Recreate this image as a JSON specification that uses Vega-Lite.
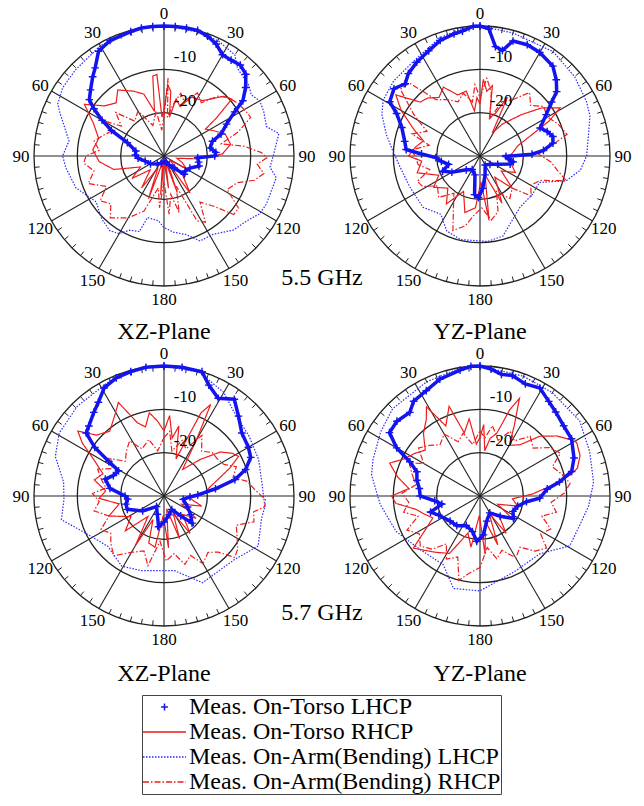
{
"$schema": "https://vega.github.io/schema/vega-lite/v6.json",
"background": "white",
"padding": {"left": 12, "top": 4, "right": 0, "bottom": 0},
"datasets": {
"rings": [{"lv": 0}, {"lv": -10}, {"lv": -20}],
"spokes": [{"a": 0}, {"a": 30}, {"a": 60}, {"a": 90}, {"a": 120}, {"a": 150}],
"ticks": [{"a": [5,10,15,20,25,35,40,45,50,55,65,70,75,80,85,95,100,105,110,115,125,130,135,140,145,155,160,165,170,175,185,190,195,200,205,215,220,225,230,235,245,250,255,260,265,275,280,285,290,295,305,310,315,320,325,335,340,345,350,355]}],
"alabels": [{"a":0,"t":"0"},{"a":30,"t":"30"},{"a":60,"t":"60"},{"a":90,"t":"90"},{"a":120,"t":"120"},{"a":150,"t":"150"},{"a":180,"t":"180"},{"a":210,"t":"150"},{"a":240,"t":"120"},{"a":270,"t":"90"},{"a":300,"t":"60"},{"a":330,"t":"30"}],
"rlabels": [{"lv": -10, "t": "-10"}, {"lv": -20, "t": "-20"}],
"curves": [
{"p":"55XZ","s":"Meas. On-Torso LHCP","a":[0,5,10,15,20,25,30,35,40,45,50,55,58,63,69,73,80,86,90,93,100,106,115,125,132,140,150,160,180,200,220,240,255,265,272,280,290,296,300,304,307,312,318,322,328,335,345,350,355,360],"v":[0,0,0,0,-0.6,-1.5,-3,-3,-2.6,-3.3,-5.4,-7.8,-10.8,-13.8,-15.9,-18.3,-19.2,-18,-18.3,-22.2,-21.9,-21.6,-23.4,-24,-23.7,-26.4,-27.6,-28.5,-28.8,-28.2,-27.6,-26.4,-25.5,-24,-23.4,-23.4,-21,-16.5,-13.5,-10.5,-8.4,-7.2,-5.4,-4.2,-1.5,-0.6,-0.3,0,0,0]},
{"p":"55XZ","s":"Meas. On-Arm(Bending) LHCP","a":[0,15,25,35,40,50,55,60,66,74,79,90,96,101,106,115,121,128,137,148,157,164,173,180,185,195,198,205,210,216,225,236,250,263,270,279,292,296,304,314,330,340,350,360],"v":[0,-0.3,-0.6,-1.5,-3.6,-4.5,-5.4,-4.5,-4.8,-5.4,-3,-4.8,-5.4,-3.6,-3.9,-3.9,-4.2,-5.7,-6.6,-8.7,-8.7,-11.1,-12.3,-13.5,-15,-15.3,-11.7,-11.1,-9.3,-8.7,-9.6,-11.1,-8.4,-7.2,-6.6,-7.8,-4.2,-2.7,-1.8,-1.5,-0.6,-0.6,0,0]},
{"p":"55XZ","s":"Meas. On-Torso RHCP","a":[0,3,6,8,12,18,25,35,45,50,54,57,62,70,80,88,95,100,110,120,125,135,145,150,160,165,172,178,185,192,200,207,215,225,235,245,255,265,275,285,295,303,310,318,325,335,342,348,352,355,357,360],"v":[-19.5,-13.5,-15,-21,-16.5,-18,-15,-14.4,-10.5,-9.6,-15,-18.6,-17.4,-15,-14.4,-16.5,-22.5,-27,-25.5,-24,-28.5,-24,-19.5,-28.5,-21,-28.5,-22.5,-28.5,-21,-28.5,-19.5,-27,-21,-25.5,-21,-24,-18,-15,-13.5,-14.4,-12,-8.1,-12,-13.5,-11.4,-13.5,-15,-19.5,-11.4,-11.1,-21,-19.5]},
{"p":"55XZ","s":"Meas. On-Arm(Bending) RHCP","a":[0,3,5,10,15,20,28,35,42,48,55,62,66,72,78,83,88,91,95,100,105,110,118,125,130,135,142,148,153,158,165,170,175,180,185,190,200,210,221,228,235,242,250,258,265,270,275,282,288,295,300,305,312,320,330,340,350,355,360],"v":[-21,-12,-21,-18,-15,-16.5,-13.5,-15,-11.4,-9.9,-9,-8.4,-8.1,-12,-16.5,-11.4,-7.5,-6.3,-8.4,-6.6,-8.4,-12,-13.5,-9,-9,-13.5,-16.5,-12,-13.2,-22.5,-16.5,-21,-16.5,-24,-18,-22.5,-16.5,-13.5,-11.1,-13.5,-12,-15,-11.4,-13.5,-11.4,-12,-15,-13.5,-15,-16.5,-13.5,-18,-15,-19.5,-18,-22.5,-19.5,-24,-21]},
{"p":"55YZ","s":"Meas. On-Torso LHCP","a":[0,4,8,12,16,23,30,39,45,50,53,58,65,70,75,80,85,88,91,95,100,105,115,130,150,165,175,182,188,195,210,225,240,248,255,262,268,272,275,281,290,297,301,308,314,319,326,334,341,348,352,357,360],"v":[0,-0.6,-4.5,-5.1,-2.4,-2.1,-2.4,-3.3,-5.1,-6.9,-9.3,-12,-14.7,-13.5,-12.6,-12.9,-15.3,-18,-24,-23.4,-22.2,-22.8,-25.5,-27,-27.6,-25.5,-22.5,-20.4,-21,-25.5,-26.4,-25.5,-22.5,-20.7,-22.5,-21,-19.8,-16.5,-12.9,-12.3,-10.8,-8.4,-5.7,-4.8,-6,-4.8,-3.9,-3,-1.8,-1.2,-0.9,0,0]},
{"p":"55YZ","s":"Meas. On-Arm(Bending) LHCP","a":[0,15,35,50,63,70,79,90,98,106,114,126,142,156,164,175,193,204,214,228,246,262,273,283,293,300,311,325,341,352,360],"v":[0,-0.6,-0.6,-1.5,-2.4,-3,-4.5,-5.4,-6.6,-9.3,-15,-15,-15,-12.9,-10.8,-10.2,-10.2,-11.1,-13.8,-12.3,-12.3,-11.4,-9.9,-7.8,-5.4,-4.2,-3.6,-3.3,-1.2,-0.3,0]},
{"p":"55YZ","s":"Meas. On-Torso RHCP","a":[0,2.5,6,10,14,20,25,28,35,45,52,59,63,67,75,85,95,105,115,125,135,145,155,165,172,178,185,195,205,215,225,236,245,255,265,270,278,285,292,300,306,312,318,325,332,340,348,353,357,360],"v":[-18,-12.3,-15,-13.5,-21,-19.5,-15,-24,-21,-16.5,-12,-8.4,-12,-16.5,-21,-22.5,-24,-22.5,-21,-24,-19.5,-24,-18,-25.5,-15,-24,-18,-16.5,-21,-16.5,-19.5,-17.1,-19.5,-15,-16.5,-13.5,-15,-16.5,-13.5,-9,-6,-11.4,-12,-13.5,-12,-15,-14.7,-19.5,-16.5,-18]},
{"p":"55YZ","s":"Meas. On-Arm(Bending) RHCP","a":[0,5,10,15,22,30,38,45,52,60,68,76,82,88,95,100,106,112,120,128,135,145,155,162,170,178,185,192,200,207,215,225,235,242,248,255,262,270,275,282,288,295,302,310,316,322,330,338,345,352,356,360],"v":[-16.5,-12,-15,-21,-16.5,-15,-11.4,-13.5,-11.4,-12,-10.5,-9.3,-13.5,-16.5,-13.5,-12,-9.3,-15,-16.5,-15,-19.5,-18,-21,-16.5,-15,-18,-16.5,-13.5,-11.7,-16.5,-19.5,-16.5,-18,-15,-14.4,-18,-15.6,-15,-14.1,-18,-13.5,-16.5,-12,-6,-6.6,-13.5,-15,-16.5,-15,-17.4,-13.5,-16.5]},
{"p":"57XZ","s":"Meas. On-Torso LHCP","a":[0,8,17,22,29,36,43,51,60,66,72,77,82,88,92,100,115,125,134,140,150,165,180,190,200,215,235,250,258,265,270,278,286,292,299,302,305,309,313,320,325,331,338,345,352,360],"v":[0,0,0,-2.4,-4.2,-2.4,-4.8,-6.9,-7.5,-8.1,-10.2,-13.2,-18,-22.2,-24,-25.5,-24,-22.5,-21,-24,-26.4,-25.5,-24,-22.8,-25.5,-27,-24,-21,-21,-21.6,-21,-17.4,-15.9,-17.4,-18,-15,-10.5,-6.9,-6.3,-4.8,-3.6,-1.5,-0.6,-0.3,0,0]},
{"p":"57XZ","s":"Meas. On-Arm(Bending) LHCP","a":[0,16,30,40,55,69,82,96,103,118,132,156,172,197,211,228,245,257,268,278,290,301,316,335,350,360],"v":[0,-0.3,-2.4,-4.8,-6,-6.6,-7.2,-6.6,-6.9,-5.4,-8.1,-8.1,-12.6,-12,-11.1,-12.6,-9.9,-5.7,-6.9,-6.6,-3.3,-1.8,-1.2,-0.6,0,0]},
{"p":"57XZ","s":"Meas. On-Torso RHCP","a":[0,4,8,12,18,24,27,30,35,45,52,58,62,67,72,80,88,95,105,115,125,135,145,152,160,168,175,182,190,198,205,210,218,228,238,250,260,268,275,283,290,297,303,307,312,320,328,334,340,345,350,355,360],"v":[-15,-11.4,-16.5,-13.5,-21,-9,-6.3,-15,-22.5,-18,-13.5,-11.4,-10.5,-13.5,-16.5,-19.5,-21,-24,-21,-25.5,-21,-24,-19.5,-25.5,-19.5,-27,-18,-25.5,-18,-18.6,-24,-16.8,-24,-18,-21,-16.5,-19.5,-15,-16.5,-13.5,-15,-12,-7.5,-5.1,-9,-10.5,-8.4,-6,-12,-13.5,-10.5,-12.6,-15]},
{"p":"57XZ","s":"Meas. On-Arm(Bending) RHCP","a":[0,5,10,18,25,32,40,48,55,62,68,75,80,86,92,96,100,106,112,120,126,131,136,142,150,156,163,170,178,185,193,200,210,220,228,235,242,250,258,265,272,278,285,292,298,305,312,320,328,335,345,352,360],"v":[-16.5,-15,-19.5,-16.5,-18,-13.5,-16.5,-15,-15,-14.4,-12,-13.5,-10.5,-9,-6.6,-6.6,-9,-8.4,-12,-10.5,-9,-8.4,-12,-13.5,-12,-15,-13.5,-16.5,-15,-19.5,-13.5,-16.5,-15,-12,-13.5,-15,-13.5,-16.5,-13.5,-15,-13.5,-16.5,-15,-13.5,-16.5,-15,-18,-16.5,-15,-18,-16.5,-19.5,-16.5]},
{"p":"57YZ","s":"Meas. On-Torso LHCP","a":[0,5,10,15,22,29,36,42,50,58,68,75,80,84,92,97,105,115,124,135,150,165,175,184,192,205,218,230,245,252,258,264,270,277,284,291,296,300,305,312,320,325,333,341,351,356,360],"v":[0,-0.6,-1.5,-1.2,-2.1,-1.5,-3,-3.9,-4.8,-5.1,-6.6,-8.1,-11.4,-14.4,-16.2,-19.2,-21,-21.6,-20.7,-23.4,-25.5,-24,-21,-19.5,-21.6,-22.5,-21.3,-21,-19.5,-18,-21,-19.5,-16.2,-15.9,-15,-14.4,-12,-7.8,-4.5,-4.2,-4.8,-3.3,-2.7,-1.5,-0.6,0,0]},
{"p":"57YZ","s":"Meas. On-Arm(Bending) LHCP","a":[0,20,35,53,68,83,95,106,119,134,156,169,180,196,208,229,247,265,281,289,303,315,335,350,360],"v":[0,-0.6,-0.9,-1.2,-2.7,-3.6,-4.8,-6,-6.3,-10.8,-10.8,-9.9,-8.1,-7.8,-12,-11.4,-9,-6.9,-4.5,-3.9,-2.7,-1.5,-0.9,-0.3,0]},
{"p":"57YZ","s":"Meas. On-Torso RHCP","a":[0,3,6,10,15,19,22,26,30,38,45,52,58,61,68,74,77,82,88,95,105,115,125,135,145,152,160,168,175,182,190,198,208,218,226,232,238,245,252,258,265,270,276,283,290,296,303,310,318,325,329,334,341,346,352,356,360],"v":[-16.5,-13.5,-19.5,-16.5,-15,-9,-5.7,-12,-16.5,-15,-10.5,-7.5,-5.4,-4.5,-5.1,-6.6,-8.7,-13.5,-18,-22.5,-21,-25.5,-21,-24,-19.5,-25.5,-18,-24,-16.5,-25.5,-18,-21,-15,-13.5,-12,-10.5,-15,-18,-16.5,-15,-10.5,-9.6,-13.5,-10.5,-7.8,-10.5,-12,-13.5,-10.5,-8.4,-6,-12,-8.1,-15,-12,-18,-16.5]},
{"p":"57YZ","s":"Meas. On-Arm(Bending) RHCP","a":[0,5,10,18,25,32,40,48,55,62,68,75,82,88,95,102,108,115,122,128,135,142,150,158,165,172,180,188,194,200,208,215,222,230,238,245,252,258,265,272,280,288,295,300,308,315,322,330,338,345,352,360],"v":[-15,-16.5,-13.5,-16.5,-13.5,-15,-12,-13.5,-10.5,-9,-12,-10.5,-9,-10.5,-13.5,-12,-15,-12,-13.5,-10.5,-12,-15,-13.5,-16.5,-15,-18,-13.5,-12,-9.9,-15,-13.5,-16.5,-13.5,-12,-13.5,-11.4,-15,-12,-13.5,-12,-15,-13.5,-12,-15,-12,-13.5,-15,-13.5,-16.5,-15,-18,-15]}
]
},
"vconcat": [
{"hconcat": [
{"width": 260, "height": 260,
 "title": {"text": "XZ-Plane", "orient": "bottom", "frame": "group", "baseline": "middle", "offset": 24},
 "layer": [
  {"data": {"name": "rings"}, "transform": [{"calculate": "datum.lv + 30", "as": "rr"}],
   "mark": {"type": "point", "shape": "circle", "filled": false, "stroke": "#222", "strokeWidth": 1.3, "opacity": 1},
   "encoding": {"x": {"datum": 0, "type": "quantitative", "scale": {"domain": [-30, 30], "nice": false}, "axis": null},
                "y": {"datum": 0, "type": "quantitative", "scale": {"domain": [-30, 30], "nice": false}, "axis": null},
                "size": {"field": "rr", "type": "quantitative", "scale": {"type": "pow", "exponent": 2, "domain": [0, 30], "range": [0, 67600]}, "legend": null}}},
  {"data": {"name": "spokes"}, "transform": [{"calculate": "30*sin(datum.a*PI/180)", "as": "x1"}, {"calculate": "30*cos(datum.a*PI/180)", "as": "y1"}, {"calculate": "-datum.x1", "as": "x0"}, {"calculate": "-datum.y1", "as": "y0"}],
   "mark": {"type": "rule", "stroke": "#222", "strokeWidth": 1.1},
   "encoding": {"x": {"field": "x0", "type": "quantitative", "scale": {"domain": [-30, 30], "nice": false}, "axis": null}, "y": {"field": "y0", "type": "quantitative", "scale": {"domain": [-30, 30], "nice": false}, "axis": null}, "x2": {"field": "x1"}, "y2": {"field": "y1"}}},
  {"data": {"name": "ticks"}, "transform": [{"flatten": ["a"]}, {"calculate": "30*sin(datum.a*PI/180)", "as": "xo"}, {"calculate": "30*cos(datum.a*PI/180)", "as": "yo"}, {"calculate": "28.8*sin(datum.a*PI/180)", "as": "xi"}, {"calculate": "28.8*cos(datum.a*PI/180)", "as": "yi"}],
   "mark": {"type": "rule", "stroke": "#222", "strokeWidth": 1},
   "encoding": {"x": {"field": "xo", "type": "quantitative", "scale": {"domain": [-30, 30], "nice": false}, "axis": null}, "y": {"field": "yo", "type": "quantitative", "scale": {"domain": [-30, 30], "nice": false}, "axis": null}, "x2": {"field": "xi"}, "y2": {"field": "yi"}}},
  {"data": {"name": "curves"}, "transform": [{"filter": "datum.p == '55XZ'"}, {"flatten": ["a", "v"]}, {"calculate": "max(0, datum.v + 30)", "as": "r"}, {"calculate": "datum.r * sin(datum.a * PI / 180)", "as": "x"}, {"calculate": "datum.r * cos(datum.a * PI / 180)", "as": "y"}],
   "layer": [
    {"transform": [{"filter": "datum.s != 'Meas. On-Torso LHCP'"}], "mark": {"type": "line", "strokeWidth": 1.2},
     "encoding": {"x": {"field": "x", "type": "quantitative", "scale": {"domain": [-30, 30], "nice": false}, "axis": null}, "y": {"field": "y", "type": "quantitative", "scale": {"domain": [-30, 30], "nice": false}, "axis": null}, "order": {"field": "a", "type": "quantitative"},
      "color": {"field": "s", "type": "nominal", "scale": {"domain": ["Meas. On-Torso LHCP", "Meas. On-Torso RHCP", "Meas. On-Arm(Bending) LHCP", "Meas. On-Arm(Bending) RHCP"], "range": ["#1414f0", "#ee1c1c", "#2a2aff", "#ee1c1c"]}, "legend": {"title": null}},
      "strokeDash": {"field": "s", "type": "nominal", "scale": {"domain": ["Meas. On-Torso LHCP", "Meas. On-Torso RHCP", "Meas. On-Arm(Bending) LHCP", "Meas. On-Arm(Bending) RHCP"], "range": [[1, 0], [1, 0], [1.5, 1.5], [6, 2, 1.5, 2]]}, "legend": {"title": null}}}},
    {"transform": [{"filter": "datum.s == 'Meas. On-Torso LHCP'"}], "mark": {"type": "line", "color": "#1414f0", "strokeWidth": 3.5},
     "encoding": {"x": {"field": "x", "type": "quantitative", "scale": {"domain": [-30, 30], "nice": false}, "axis": null}, "y": {"field": "y", "type": "quantitative", "scale": {"domain": [-30, 30], "nice": false}, "axis": null}, "order": {"field": "a", "type": "quantitative"}}},
    {"transform": [{"filter": "datum.s == 'Meas. On-Torso LHCP'"}], "mark": {"type": "point", "filled": false, "strokeWidth": 1.4, "size": 2300, "opacity": 1},
     "encoding": {"x": {"field": "x", "type": "quantitative", "scale": {"domain": [-30, 30], "nice": false}, "axis": null}, "y": {"field": "y", "type": "quantitative", "scale": {"domain": [-30, 30], "nice": false}, "axis": null},
      "color": {"field": "s", "type": "nominal", "scale": {"domain": ["Meas. On-Torso LHCP", "Meas. On-Torso RHCP", "Meas. On-Arm(Bending) LHCP", "Meas. On-Arm(Bending) RHCP"], "range": ["#1414f0", "#ee1c1c", "#2a2aff", "#ee1c1c"]}, "legend": {"title": null}},
      "shape": {"field": "s", "type": "nominal", "scale": {"domain": ["Meas. On-Torso LHCP", "Meas. On-Torso RHCP", "Meas. On-Arm(Bending) LHCP", "Meas. On-Arm(Bending) RHCP"], "range": ["M-0.16,0L0.16,0M0,-0.16L0,0.16", "stroke", "stroke", "stroke"]}, "legend": {"title": null}}}}
   ]},
  {"data": {"name": "alabels"}, "transform": [{"calculate": "33*sin(datum.a*PI/180)", "as": "x"}, {"calculate": "33*cos(datum.a*PI/180)", "as": "y"}],
   "mark": {"type": "text", "font": "Liberation Serif", "fontSize": 17, "align": "center", "baseline": "middle", "dy": 1, "color": "#000"},
   "encoding": {"x": {"field": "x", "type": "quantitative", "scale": {"domain": [-30, 30], "nice": false}, "axis": null}, "y": {"field": "y", "type": "quantitative", "scale": {"domain": [-30, 30], "nice": false}, "axis": null}, "text": {"field": "t"}}},
  {"data": {"name": "rlabels"}, "transform": [{"calculate": "datum.lv + 30", "as": "rr"}],
   "mark": {"type": "text", "font": "Liberation Serif", "fontSize": 17, "align": "center", "baseline": "middle", "dx": 21, "dy": -12, "color": "#000"},
   "encoding": {"x": {"datum": 0, "type": "quantitative", "scale": {"domain": [-30, 30], "nice": false}, "axis": null}, "y": {"field": "rr", "type": "quantitative", "scale": {"domain": [-30, 30], "nice": false}, "axis": null}, "text": {"field": "t"}}}
 ]},
{"width": 260, "height": 260,
 "title": {"text": "YZ-Plane", "orient": "bottom", "frame": "group", "baseline": "middle", "offset": 24},
 "layer": [
  {"data": {"name": "rings"}, "transform": [{"calculate": "datum.lv + 30", "as": "rr"}],
   "mark": {"type": "point", "shape": "circle", "filled": false, "stroke": "#222", "strokeWidth": 1.3, "opacity": 1},
   "encoding": {"x": {"datum": 0, "type": "quantitative", "scale": {"domain": [-30, 30], "nice": false}, "axis": null},
                "y": {"datum": 0, "type": "quantitative", "scale": {"domain": [-30, 30], "nice": false}, "axis": null},
                "size": {"field": "rr", "type": "quantitative", "scale": {"type": "pow", "exponent": 2, "domain": [0, 30], "range": [0, 67600]}, "legend": null}}},
  {"data": {"name": "spokes"}, "transform": [{"calculate": "30*sin(datum.a*PI/180)", "as": "x1"}, {"calculate": "30*cos(datum.a*PI/180)", "as": "y1"}, {"calculate": "-datum.x1", "as": "x0"}, {"calculate": "-datum.y1", "as": "y0"}],
   "mark": {"type": "rule", "stroke": "#222", "strokeWidth": 1.1},
   "encoding": {"x": {"field": "x0", "type": "quantitative", "scale": {"domain": [-30, 30], "nice": false}, "axis": null}, "y": {"field": "y0", "type": "quantitative", "scale": {"domain": [-30, 30], "nice": false}, "axis": null}, "x2": {"field": "x1"}, "y2": {"field": "y1"}}},
  {"data": {"name": "ticks"}, "transform": [{"flatten": ["a"]}, {"calculate": "30*sin(datum.a*PI/180)", "as": "xo"}, {"calculate": "30*cos(datum.a*PI/180)", "as": "yo"}, {"calculate": "28.8*sin(datum.a*PI/180)", "as": "xi"}, {"calculate": "28.8*cos(datum.a*PI/180)", "as": "yi"}],
   "mark": {"type": "rule", "stroke": "#222", "strokeWidth": 1},
   "encoding": {"x": {"field": "xo", "type": "quantitative", "scale": {"domain": [-30, 30], "nice": false}, "axis": null}, "y": {"field": "yo", "type": "quantitative", "scale": {"domain": [-30, 30], "nice": false}, "axis": null}, "x2": {"field": "xi"}, "y2": {"field": "yi"}}},
  {"data": {"name": "curves"}, "transform": [{"filter": "datum.p == '55YZ'"}, {"flatten": ["a", "v"]}, {"calculate": "max(0, datum.v + 30)", "as": "r"}, {"calculate": "datum.r * sin(datum.a * PI / 180)", "as": "x"}, {"calculate": "datum.r * cos(datum.a * PI / 180)", "as": "y"}],
   "layer": [
    {"transform": [{"filter": "datum.s != 'Meas. On-Torso LHCP'"}], "mark": {"type": "line", "strokeWidth": 1.2},
     "encoding": {"x": {"field": "x", "type": "quantitative", "scale": {"domain": [-30, 30], "nice": false}, "axis": null}, "y": {"field": "y", "type": "quantitative", "scale": {"domain": [-30, 30], "nice": false}, "axis": null}, "order": {"field": "a", "type": "quantitative"},
      "color": {"field": "s", "type": "nominal", "scale": {"domain": ["Meas. On-Torso LHCP", "Meas. On-Torso RHCP", "Meas. On-Arm(Bending) LHCP", "Meas. On-Arm(Bending) RHCP"], "range": ["#1414f0", "#ee1c1c", "#2a2aff", "#ee1c1c"]}, "legend": {"title": null}},
      "strokeDash": {"field": "s", "type": "nominal", "scale": {"domain": ["Meas. On-Torso LHCP", "Meas. On-Torso RHCP", "Meas. On-Arm(Bending) LHCP", "Meas. On-Arm(Bending) RHCP"], "range": [[1, 0], [1, 0], [1.5, 1.5], [6, 2, 1.5, 2]]}, "legend": {"title": null}}}},
    {"transform": [{"filter": "datum.s == 'Meas. On-Torso LHCP'"}], "mark": {"type": "line", "color": "#1414f0", "strokeWidth": 3.5},
     "encoding": {"x": {"field": "x", "type": "quantitative", "scale": {"domain": [-30, 30], "nice": false}, "axis": null}, "y": {"field": "y", "type": "quantitative", "scale": {"domain": [-30, 30], "nice": false}, "axis": null}, "order": {"field": "a", "type": "quantitative"}}},
    {"transform": [{"filter": "datum.s == 'Meas. On-Torso LHCP'"}], "mark": {"type": "point", "filled": false, "strokeWidth": 1.4, "size": 2300, "opacity": 1},
     "encoding": {"x": {"field": "x", "type": "quantitative", "scale": {"domain": [-30, 30], "nice": false}, "axis": null}, "y": {"field": "y", "type": "quantitative", "scale": {"domain": [-30, 30], "nice": false}, "axis": null},
      "color": {"field": "s", "type": "nominal", "scale": {"domain": ["Meas. On-Torso LHCP", "Meas. On-Torso RHCP", "Meas. On-Arm(Bending) LHCP", "Meas. On-Arm(Bending) RHCP"], "range": ["#1414f0", "#ee1c1c", "#2a2aff", "#ee1c1c"]}, "legend": {"title": null}},
      "shape": {"field": "s", "type": "nominal", "scale": {"domain": ["Meas. On-Torso LHCP", "Meas. On-Torso RHCP", "Meas. On-Arm(Bending) LHCP", "Meas. On-Arm(Bending) RHCP"], "range": ["M-0.16,0L0.16,0M0,-0.16L0,0.16", "stroke", "stroke", "stroke"]}, "legend": {"title": null}}}}
   ]},
  {"data": {"name": "alabels"}, "transform": [{"calculate": "33*sin(datum.a*PI/180)", "as": "x"}, {"calculate": "33*cos(datum.a*PI/180)", "as": "y"}],
   "mark": {"type": "text", "font": "Liberation Serif", "fontSize": 17, "align": "center", "baseline": "middle", "dy": 1, "color": "#000"},
   "encoding": {"x": {"field": "x", "type": "quantitative", "scale": {"domain": [-30, 30], "nice": false}, "axis": null}, "y": {"field": "y", "type": "quantitative", "scale": {"domain": [-30, 30], "nice": false}, "axis": null}, "text": {"field": "t"}}},
  {"data": {"name": "rlabels"}, "transform": [{"calculate": "datum.lv + 30", "as": "rr"}],
   "mark": {"type": "text", "font": "Liberation Serif", "fontSize": 17, "align": "center", "baseline": "middle", "dx": 21, "dy": -12, "color": "#000"},
   "encoding": {"x": {"datum": 0, "type": "quantitative", "scale": {"domain": [-30, 30], "nice": false}, "axis": null}, "y": {"field": "rr", "type": "quantitative", "scale": {"domain": [-30, 30], "nice": false}, "axis": null}, "text": {"field": "t"}}}
 ]}
], "spacing": 56, "bounds": "flush",
 "title": {"text": "5.5 GHz", "orient": "bottom", "frame": "bounds", "baseline": "middle", "offset": -66, "anchor": "middle"}},
{"hconcat": [
{"width": 260, "height": 260,
 "title": {"text": "XZ-Plane", "orient": "bottom", "frame": "group", "baseline": "middle", "offset": 26},
 "layer": [
  {"data": {"name": "rings"}, "transform": [{"calculate": "datum.lv + 30", "as": "rr"}],
   "mark": {"type": "point", "shape": "circle", "filled": false, "stroke": "#222", "strokeWidth": 1.3, "opacity": 1},
   "encoding": {"x": {"datum": 0, "type": "quantitative", "scale": {"domain": [-30, 30], "nice": false}, "axis": null},
                "y": {"datum": 0, "type": "quantitative", "scale": {"domain": [-30, 30], "nice": false}, "axis": null},
                "size": {"field": "rr", "type": "quantitative", "scale": {"type": "pow", "exponent": 2, "domain": [0, 30], "range": [0, 67600]}, "legend": null}}},
  {"data": {"name": "spokes"}, "transform": [{"calculate": "30*sin(datum.a*PI/180)", "as": "x1"}, {"calculate": "30*cos(datum.a*PI/180)", "as": "y1"}, {"calculate": "-datum.x1", "as": "x0"}, {"calculate": "-datum.y1", "as": "y0"}],
   "mark": {"type": "rule", "stroke": "#222", "strokeWidth": 1.1},
   "encoding": {"x": {"field": "x0", "type": "quantitative", "scale": {"domain": [-30, 30], "nice": false}, "axis": null}, "y": {"field": "y0", "type": "quantitative", "scale": {"domain": [-30, 30], "nice": false}, "axis": null}, "x2": {"field": "x1"}, "y2": {"field": "y1"}}},
  {"data": {"name": "ticks"}, "transform": [{"flatten": ["a"]}, {"calculate": "30*sin(datum.a*PI/180)", "as": "xo"}, {"calculate": "30*cos(datum.a*PI/180)", "as": "yo"}, {"calculate": "28.8*sin(datum.a*PI/180)", "as": "xi"}, {"calculate": "28.8*cos(datum.a*PI/180)", "as": "yi"}],
   "mark": {"type": "rule", "stroke": "#222", "strokeWidth": 1},
   "encoding": {"x": {"field": "xo", "type": "quantitative", "scale": {"domain": [-30, 30], "nice": false}, "axis": null}, "y": {"field": "yo", "type": "quantitative", "scale": {"domain": [-30, 30], "nice": false}, "axis": null}, "x2": {"field": "xi"}, "y2": {"field": "yi"}}},
  {"data": {"name": "curves"}, "transform": [{"filter": "datum.p == '57XZ'"}, {"flatten": ["a", "v"]}, {"calculate": "max(0, datum.v + 30)", "as": "r"}, {"calculate": "datum.r * sin(datum.a * PI / 180)", "as": "x"}, {"calculate": "datum.r * cos(datum.a * PI / 180)", "as": "y"}],
   "layer": [
    {"transform": [{"filter": "datum.s != 'Meas. On-Torso LHCP'"}], "mark": {"type": "line", "strokeWidth": 1.2},
     "encoding": {"x": {"field": "x", "type": "quantitative", "scale": {"domain": [-30, 30], "nice": false}, "axis": null}, "y": {"field": "y", "type": "quantitative", "scale": {"domain": [-30, 30], "nice": false}, "axis": null}, "order": {"field": "a", "type": "quantitative"},
      "color": {"field": "s", "type": "nominal", "scale": {"domain": ["Meas. On-Torso LHCP", "Meas. On-Torso RHCP", "Meas. On-Arm(Bending) LHCP", "Meas. On-Arm(Bending) RHCP"], "range": ["#1414f0", "#ee1c1c", "#2a2aff", "#ee1c1c"]}, "legend": {"title": null}},
      "strokeDash": {"field": "s", "type": "nominal", "scale": {"domain": ["Meas. On-Torso LHCP", "Meas. On-Torso RHCP", "Meas. On-Arm(Bending) LHCP", "Meas. On-Arm(Bending) RHCP"], "range": [[1, 0], [1, 0], [1.5, 1.5], [6, 2, 1.5, 2]]}, "legend": {"title": null}}}},
    {"transform": [{"filter": "datum.s == 'Meas. On-Torso LHCP'"}], "mark": {"type": "line", "color": "#1414f0", "strokeWidth": 3.5},
     "encoding": {"x": {"field": "x", "type": "quantitative", "scale": {"domain": [-30, 30], "nice": false}, "axis": null}, "y": {"field": "y", "type": "quantitative", "scale": {"domain": [-30, 30], "nice": false}, "axis": null}, "order": {"field": "a", "type": "quantitative"}}},
    {"transform": [{"filter": "datum.s == 'Meas. On-Torso LHCP'"}], "mark": {"type": "point", "filled": false, "strokeWidth": 1.4, "size": 2300, "opacity": 1},
     "encoding": {"x": {"field": "x", "type": "quantitative", "scale": {"domain": [-30, 30], "nice": false}, "axis": null}, "y": {"field": "y", "type": "quantitative", "scale": {"domain": [-30, 30], "nice": false}, "axis": null},
      "color": {"field": "s", "type": "nominal", "scale": {"domain": ["Meas. On-Torso LHCP", "Meas. On-Torso RHCP", "Meas. On-Arm(Bending) LHCP", "Meas. On-Arm(Bending) RHCP"], "range": ["#1414f0", "#ee1c1c", "#2a2aff", "#ee1c1c"]}, "legend": {"title": null}},
      "shape": {"field": "s", "type": "nominal", "scale": {"domain": ["Meas. On-Torso LHCP", "Meas. On-Torso RHCP", "Meas. On-Arm(Bending) LHCP", "Meas. On-Arm(Bending) RHCP"], "range": ["M-0.16,0L0.16,0M0,-0.16L0,0.16", "stroke", "stroke", "stroke"]}, "legend": {"title": null}}}}
   ]},
  {"data": {"name": "alabels"}, "transform": [{"calculate": "33*sin(datum.a*PI/180)", "as": "x"}, {"calculate": "33*cos(datum.a*PI/180)", "as": "y"}],
   "mark": {"type": "text", "font": "Liberation Serif", "fontSize": 17, "align": "center", "baseline": "middle", "dy": 1, "color": "#000"},
   "encoding": {"x": {"field": "x", "type": "quantitative", "scale": {"domain": [-30, 30], "nice": false}, "axis": null}, "y": {"field": "y", "type": "quantitative", "scale": {"domain": [-30, 30], "nice": false}, "axis": null}, "text": {"field": "t"}}},
  {"data": {"name": "rlabels"}, "transform": [{"calculate": "datum.lv + 30", "as": "rr"}],
   "mark": {"type": "text", "font": "Liberation Serif", "fontSize": 17, "align": "center", "baseline": "middle", "dx": 21, "dy": -12, "color": "#000"},
   "encoding": {"x": {"datum": 0, "type": "quantitative", "scale": {"domain": [-30, 30], "nice": false}, "axis": null}, "y": {"field": "rr", "type": "quantitative", "scale": {"domain": [-30, 30], "nice": false}, "axis": null}, "text": {"field": "t"}}}
 ]},
{"width": 260, "height": 260,
 "title": {"text": "YZ-Plane", "orient": "bottom", "frame": "group", "baseline": "middle", "offset": 26},
 "layer": [
  {"data": {"name": "rings"}, "transform": [{"calculate": "datum.lv + 30", "as": "rr"}],
   "mark": {"type": "point", "shape": "circle", "filled": false, "stroke": "#222", "strokeWidth": 1.3, "opacity": 1},
   "encoding": {"x": {"datum": 0, "type": "quantitative", "scale": {"domain": [-30, 30], "nice": false}, "axis": null},
                "y": {"datum": 0, "type": "quantitative", "scale": {"domain": [-30, 30], "nice": false}, "axis": null},
                "size": {"field": "rr", "type": "quantitative", "scale": {"type": "pow", "exponent": 2, "domain": [0, 30], "range": [0, 67600]}, "legend": null}}},
  {"data": {"name": "spokes"}, "transform": [{"calculate": "30*sin(datum.a*PI/180)", "as": "x1"}, {"calculate": "30*cos(datum.a*PI/180)", "as": "y1"}, {"calculate": "-datum.x1", "as": "x0"}, {"calculate": "-datum.y1", "as": "y0"}],
   "mark": {"type": "rule", "stroke": "#222", "strokeWidth": 1.1},
   "encoding": {"x": {"field": "x0", "type": "quantitative", "scale": {"domain": [-30, 30], "nice": false}, "axis": null}, "y": {"field": "y0", "type": "quantitative", "scale": {"domain": [-30, 30], "nice": false}, "axis": null}, "x2": {"field": "x1"}, "y2": {"field": "y1"}}},
  {"data": {"name": "ticks"}, "transform": [{"flatten": ["a"]}, {"calculate": "30*sin(datum.a*PI/180)", "as": "xo"}, {"calculate": "30*cos(datum.a*PI/180)", "as": "yo"}, {"calculate": "28.8*sin(datum.a*PI/180)", "as": "xi"}, {"calculate": "28.8*cos(datum.a*PI/180)", "as": "yi"}],
   "mark": {"type": "rule", "stroke": "#222", "strokeWidth": 1},
   "encoding": {"x": {"field": "xo", "type": "quantitative", "scale": {"domain": [-30, 30], "nice": false}, "axis": null}, "y": {"field": "yo", "type": "quantitative", "scale": {"domain": [-30, 30], "nice": false}, "axis": null}, "x2": {"field": "xi"}, "y2": {"field": "yi"}}},
  {"data": {"name": "curves"}, "transform": [{"filter": "datum.p == '57YZ'"}, {"flatten": ["a", "v"]}, {"calculate": "max(0, datum.v + 30)", "as": "r"}, {"calculate": "datum.r * sin(datum.a * PI / 180)", "as": "x"}, {"calculate": "datum.r * cos(datum.a * PI / 180)", "as": "y"}],
   "layer": [
    {"transform": [{"filter": "datum.s != 'Meas. On-Torso LHCP'"}], "mark": {"type": "line", "strokeWidth": 1.2},
     "encoding": {"x": {"field": "x", "type": "quantitative", "scale": {"domain": [-30, 30], "nice": false}, "axis": null}, "y": {"field": "y", "type": "quantitative", "scale": {"domain": [-30, 30], "nice": false}, "axis": null}, "order": {"field": "a", "type": "quantitative"},
      "color": {"field": "s", "type": "nominal", "scale": {"domain": ["Meas. On-Torso LHCP", "Meas. On-Torso RHCP", "Meas. On-Arm(Bending) LHCP", "Meas. On-Arm(Bending) RHCP"], "range": ["#1414f0", "#ee1c1c", "#2a2aff", "#ee1c1c"]}, "legend": {"title": null}},
      "strokeDash": {"field": "s", "type": "nominal", "scale": {"domain": ["Meas. On-Torso LHCP", "Meas. On-Torso RHCP", "Meas. On-Arm(Bending) LHCP", "Meas. On-Arm(Bending) RHCP"], "range": [[1, 0], [1, 0], [1.5, 1.5], [6, 2, 1.5, 2]]}, "legend": {"title": null}}}},
    {"transform": [{"filter": "datum.s == 'Meas. On-Torso LHCP'"}], "mark": {"type": "line", "color": "#1414f0", "strokeWidth": 3.5},
     "encoding": {"x": {"field": "x", "type": "quantitative", "scale": {"domain": [-30, 30], "nice": false}, "axis": null}, "y": {"field": "y", "type": "quantitative", "scale": {"domain": [-30, 30], "nice": false}, "axis": null}, "order": {"field": "a", "type": "quantitative"}}},
    {"transform": [{"filter": "datum.s == 'Meas. On-Torso LHCP'"}], "mark": {"type": "point", "filled": false, "strokeWidth": 1.4, "size": 2300, "opacity": 1},
     "encoding": {"x": {"field": "x", "type": "quantitative", "scale": {"domain": [-30, 30], "nice": false}, "axis": null}, "y": {"field": "y", "type": "quantitative", "scale": {"domain": [-30, 30], "nice": false}, "axis": null},
      "color": {"field": "s", "type": "nominal", "scale": {"domain": ["Meas. On-Torso LHCP", "Meas. On-Torso RHCP", "Meas. On-Arm(Bending) LHCP", "Meas. On-Arm(Bending) RHCP"], "range": ["#1414f0", "#ee1c1c", "#2a2aff", "#ee1c1c"]}, "legend": {"title": null}},
      "shape": {"field": "s", "type": "nominal", "scale": {"domain": ["Meas. On-Torso LHCP", "Meas. On-Torso RHCP", "Meas. On-Arm(Bending) LHCP", "Meas. On-Arm(Bending) RHCP"], "range": ["M-0.16,0L0.16,0M0,-0.16L0,0.16", "stroke", "stroke", "stroke"]}, "legend": {"title": null}}}}
   ]},
  {"data": {"name": "alabels"}, "transform": [{"calculate": "33*sin(datum.a*PI/180)", "as": "x"}, {"calculate": "33*cos(datum.a*PI/180)", "as": "y"}],
   "mark": {"type": "text", "font": "Liberation Serif", "fontSize": 17, "align": "center", "baseline": "middle", "dy": 1, "color": "#000"},
   "encoding": {"x": {"field": "x", "type": "quantitative", "scale": {"domain": [-30, 30], "nice": false}, "axis": null}, "y": {"field": "y", "type": "quantitative", "scale": {"domain": [-30, 30], "nice": false}, "axis": null}, "text": {"field": "t"}}},
  {"data": {"name": "rlabels"}, "transform": [{"calculate": "datum.lv + 30", "as": "rr"}],
   "mark": {"type": "text", "font": "Liberation Serif", "fontSize": 17, "align": "center", "baseline": "middle", "dx": 21, "dy": -12, "color": "#000"},
   "encoding": {"x": {"datum": 0, "type": "quantitative", "scale": {"domain": [-30, 30], "nice": false}, "axis": null}, "y": {"field": "rr", "type": "quantitative", "scale": {"domain": [-30, 30], "nice": false}, "axis": null}, "text": {"field": "t"}}}
 ]}
], "spacing": 56, "bounds": "flush",
 "title": {"text": "5.7 GHz", "orient": "bottom", "frame": "bounds", "baseline": "middle", "offset": -73, "anchor": "middle"}}
],
"spacing": 0,
"config": {
 "view": {"stroke": null},
 "title": {"font": "Liberation Serif", "fontSize": 24, "fontWeight": "normal", "color": "#000"},
 "legend": {"orient": "none", "legendX": 108, "legendY": 669, "direction": "vertical", "labelFont": "Liberation Serif", "labelFontSize": 24, "labelColor": "#000", "labelLimit": 0, "labelOffset": 2, "symbolSize": 1849, "symbolStrokeWidth": 1.5, "symbolOffset": 0, "clipHeight": 24, "rowPadding": 1, "padding": 0, "strokeColor": "#444", "fillColor": "#fff"}
}
}
